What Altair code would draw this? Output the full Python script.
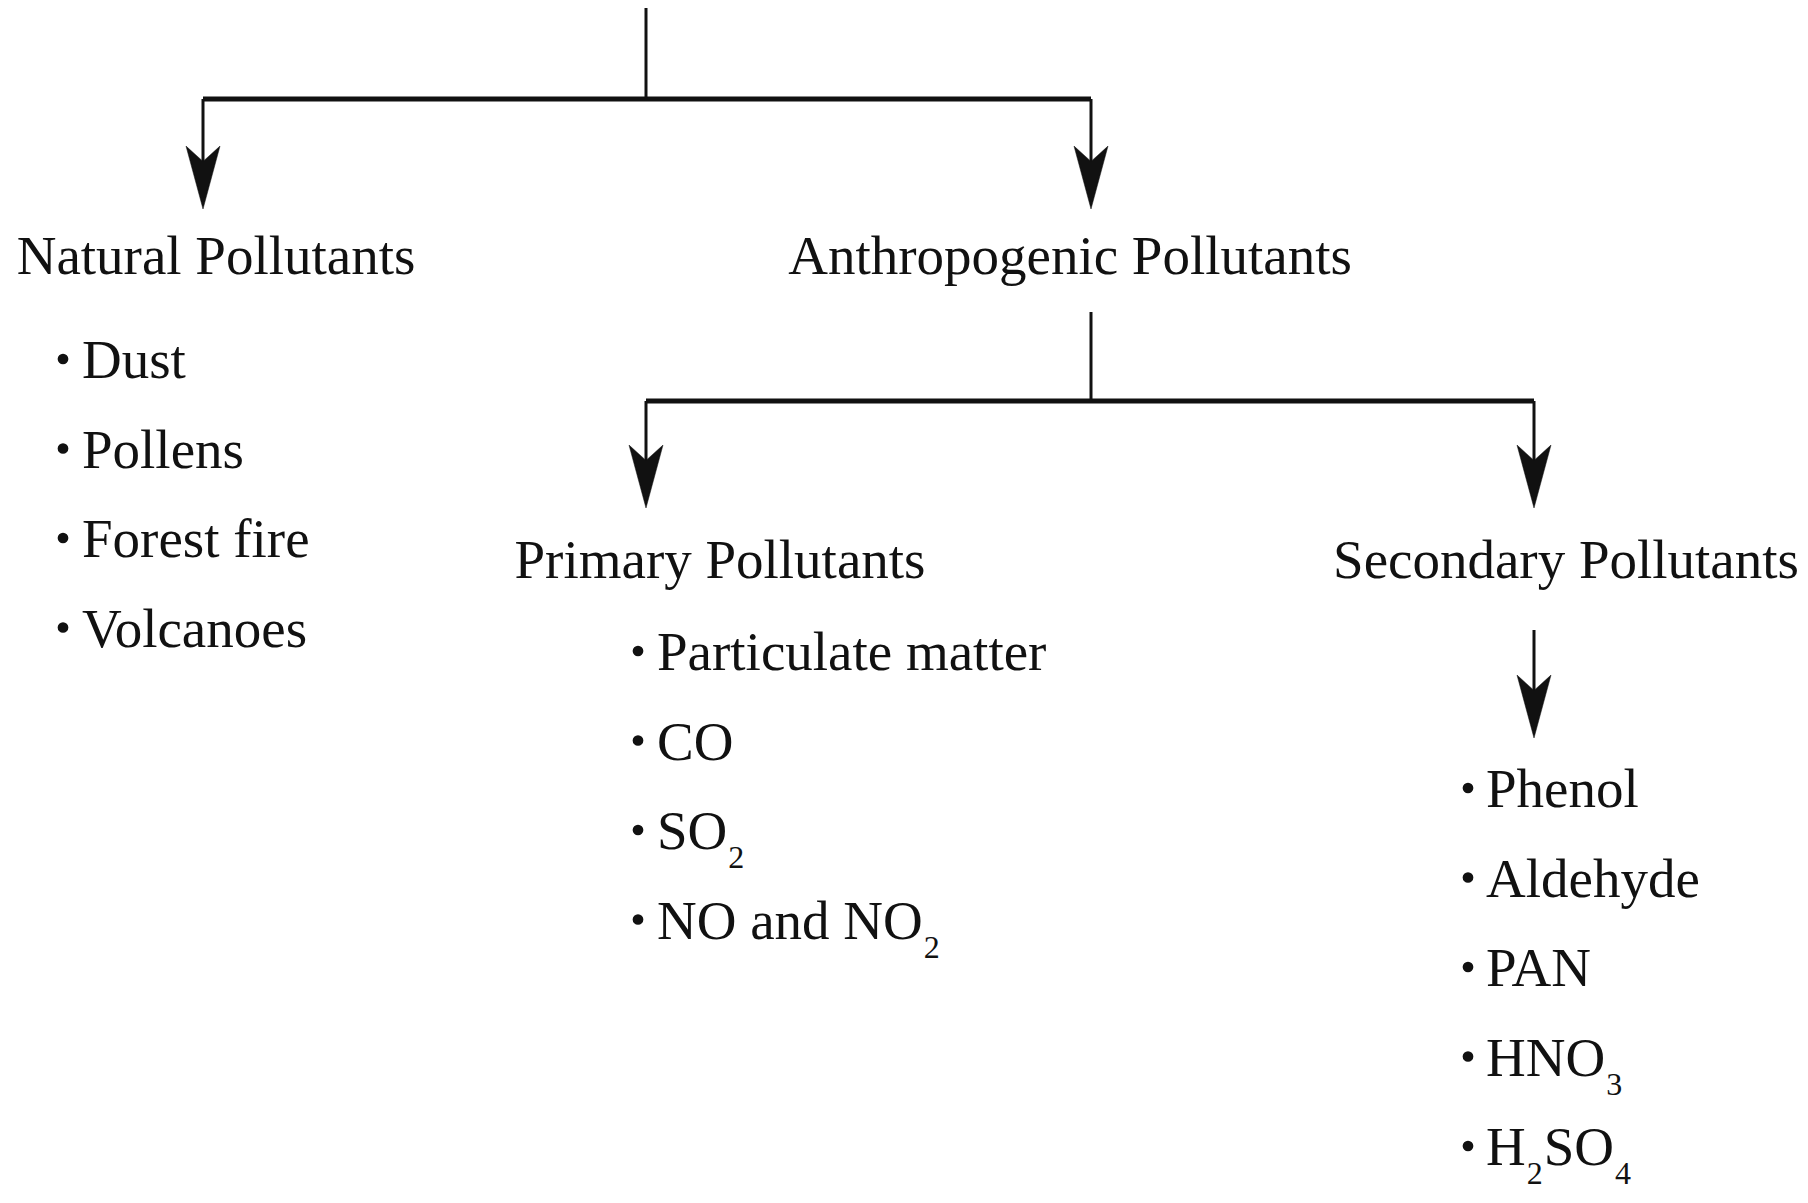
import altair as alt
import pandas as pd

# ---------------- content ----------------
headings = ["Natural Pollutants", "Anthropogenic Pollutants",
            "Primary Pollutants", "Secondary Pollutants"]
natural_items = ["Dust", "Pollens", "Forest fire", "Volcanoes"]
primary_items = ["Particulate matter", "CO", "SO₂", "NO and NO₂"]
secondary_items = ["Phenol", "Aldehyde", "PAN", "HNO₃", "H₂SO₄"]
lists = [natural_items, primary_items, secondary_items]

# ---------------- layout (page pixels) ----------------
heading_cx = [216, 1070, 720, 1566]
heading_base = [274, 274, 578, 578]
list_text_x = [82, 657, 1486]
list_bullet_x = [63, 638, 1468]
list_first_base = [378, 670, 807]
line_step = 89.5

# connectors: horizontal bars (x, x2, y) and vertical strokes (x, y, y2)
h_bars = [(203, 1091, 99), (646, 1534, 401)]
v_bars = [(646, 7, 99), (203, 99, 170), (1091, 99, 170),
          (1091, 312, 401), (646, 401, 470), (1534, 401, 470),
          (1534, 630, 700)]
arrow_tips = [(203, 209), (1091, 209), (646, 508), (1534, 508), (1534, 738)]

FONT = "Liberation Serif"
MAIN = 55
SUB = 32
INK = "#111111"

# Times / Liberation Serif advance widths (em) for glyphs followed by subscripts
adv = {"S": .556, "O": .722, "N": .722, "H": .722, " ": .25,
       "a": .444, "n": .5, "d": .5, "C": .667}
subs = {"₀": "0", "₁": "1", "₂": "2", "₃": "3", "₄": "4"}

main_rows, sub_rows, bullet_rows = [], [], []
for items, tx, bx, b0 in zip(lists, list_text_x, list_bullet_x, list_first_base):
    for i, label in enumerate(items):
        base = b0 + i * line_step
        bullet_rows.append({"x": bx, "y": base - 19})
        # split into normal / subscript runs
        runs, cur, cur_sub = [], "", None
        for ch in label:
            is_sub = ch in subs
            if cur_sub is None or is_sub == cur_sub:
                cur += ch
            else:
                runs.append((cur, cur_sub))
                cur = ch
            cur_sub = is_sub
        runs.append((cur, cur_sub))
        cx = tx
        for text, is_sub in runs:
            if is_sub:
                digits = "".join(subs[c] for c in text)
                sub_rows.append({"x": cx + 1, "y": base + 19, "t": digits})
                cx += len(digits) * 0.5 * SUB + 2
            else:
                main_rows.append({"x": cx, "y": base, "t": text})
                cx += sum(adv.get(c, .5) for c in text) * MAIN

head_df = pd.DataFrame({"x": heading_cx, "y": heading_base, "t": headings})
main_df = pd.DataFrame(main_rows)
sub_df = pd.DataFrame(sub_rows)
bullet_df = pd.DataFrame(bullet_rows)
h_df = pd.DataFrame(h_bars, columns=["x", "x2", "y"])
v_df = pd.DataFrame(v_bars, columns=["x", "y", "y2"])
tip_df = pd.DataFrame(arrow_tips, columns=["x", "y"])

xs = alt.Scale(domain=[8, 1800], nice=False, zero=False)
ys = alt.Scale(domain=[8, 1195], nice=False, zero=False, reverse=True)
X = alt.X("x:Q", scale=xs, axis=None)
Y = alt.Y("y:Q", scale=ys, axis=None)

hbar = alt.Chart(h_df).mark_rule(color=INK, strokeWidth=5).encode(
    x=X, x2="x2:Q", y=Y)
vbar = alt.Chart(v_df).mark_rule(color=INK, strokeWidth=3).encode(
    x=X, y=Y, y2="y2:Q")
heads = alt.Chart(tip_df).mark_point(
    shape="M0,0 L-1,-3.7 L0,-2.8 L1,-3.7 Z", filled=True, fill=INK,
    stroke=INK, strokeWidth=0.5, opacity=1, size=1156
).encode(x=X, y=Y)

head_txt = alt.Chart(head_df).mark_text(
    font=FONT, fontSize=MAIN, align="center", baseline="alphabetic", color=INK
).encode(x=X, y=Y, text="t:N")
main_txt = alt.Chart(main_df).mark_text(
    font=FONT, fontSize=MAIN, align="left", baseline="alphabetic", color=INK
).encode(x=X, y=Y, text="t:N")
sub_txt = alt.Chart(sub_df).mark_text(
    font=FONT, fontSize=SUB, align="left", baseline="alphabetic", color=INK
).encode(x=X, y=Y, text="t:N")
bullets = alt.Chart(bullet_df).mark_circle(size=115, color=INK, opacity=1).encode(
    x=X, y=Y)

chart = alt.layer(hbar, vbar, heads, head_txt, main_txt, sub_txt, bullets).properties(
    width=1792, height=1187, padding=0, autosize="none", background="white"
).configure_view(stroke=None)

chart.save("out.html", embed_options={"renderer": "svg", "actions": False})
